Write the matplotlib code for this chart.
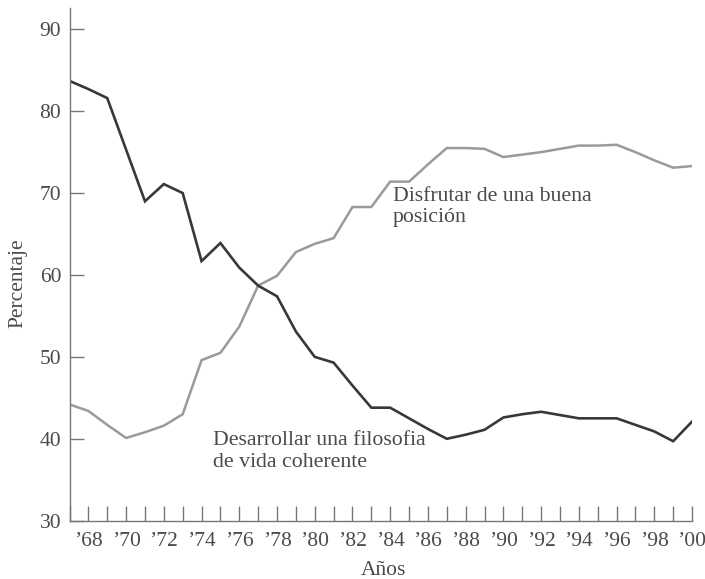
import matplotlib
matplotlib.use("Agg")
import matplotlib.pyplot as plt
from matplotlib.ticker import MultipleLocator

years = list(range(1967, 2001))
filosofia = [83.7, 82.7, 81.6, 75.3, 69.0, 71.1, 70.0, 61.7, 63.9, 60.9,
             58.7, 57.4, 53.1, 50.0, 49.3, 46.5, 43.8, 43.8, 42.5, 41.2,
             40.0, 40.5, 41.1, 42.6, 43.0, 43.3, 42.9, 42.5, 42.5, 42.5,
             41.7, 40.9, 39.7, 42.1]
posicion = [44.2, 43.4, 41.7, 40.1, 40.8, 41.6, 43.0, 49.6, 50.5, 53.7,
            58.7, 59.9, 62.8, 63.8, 64.5, 68.3, 68.3, 71.4, 71.4, 73.5,
            75.5, 75.5, 75.4, 74.4, 74.7, 75.0, 75.4, 75.8, 75.8, 75.9,
            75.0, 74.0, 73.1, 73.3]
label_years = list(range(1968, 2001, 2))
tick_labels = ["\u2019" + str(y)[2:] for y in label_years]
y_ticks = [30, 40, 50, 60, 70, 80, 90]

plt.rcParams['font.family'] = ['Liberation Serif', 'DejaVu Serif']

fig = plt.figure(figsize=(7.05, 5.79), dpi=100)
ax = fig.add_axes([0.0986, 0.1007, 0.8830, 0.8855])

text_col = '#4a4a4a'
axis_col = '#777777'

ax.plot(years, posicion, color='#9a9a9a', lw=1.8, solid_joinstyle='miter')
ax.plot(years, filosofia, color='#383838', lw=1.9, solid_joinstyle='miter')

ax.set_xlim(1967, 2000)
ax.set_ylim(30, 92.6)

ax.spines['top'].set_visible(False)
ax.spines['right'].set_visible(False)
for s in ('left', 'bottom'):
    ax.spines[s].set_color(axis_col)
    ax.spines[s].set_linewidth(1.0)

ax.set_xticks(label_years)
ax.set_xticklabels(tick_labels)
ax.xaxis.set_minor_locator(MultipleLocator(1))
ax.set_yticks(y_ticks)
ax.tick_params(axis='both', which='both', direction='in', color=axis_col,
               width=1.0, labelsize=15.5, labelcolor=text_col)
ax.tick_params(axis='x', which='both', length=11, pad=8)
ax.tick_params(axis='y', which='major', length=10, pad=6)

ax.set_xlabel('Años', fontsize=15.5, color=text_col)
ax.set_ylabel('Percentaje', fontsize=15.5, color=text_col)
ax.yaxis.set_label_coords(-0.067, 0.464)
ax.xaxis.set_label_coords(0.505, -0.078)

ax.text(1984.15, 70.8, 'Disfrutar de una buena\nposición', fontsize=15.7,
        color=text_col, ha='left', va='top', linespacing=1.15)
ax.text(1974.6, 40.9, 'Desarrollar una filosofia\nde vida coherente', fontsize=15.7,
        color=text_col, ha='left', va='top', linespacing=1.15)

fig.savefig('out.png', dpi=100)
